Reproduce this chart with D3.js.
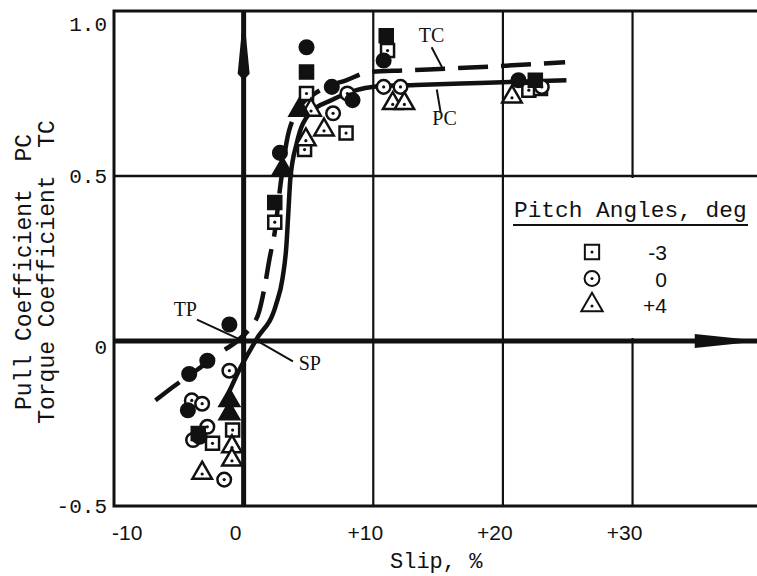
<!DOCTYPE html>
<html>
<head>
<meta charset="utf-8">
<script src="https://cdn.jsdelivr.net/npm/d3@7"></script>
<style>
  body { margin: 0; background: #fff; }
  svg { display: block; }
  .mono { font-family: "Liberation Mono", "DejaVu Sans Mono", monospace; fill: #111; }
  .sans { font-family: "Liberation Sans", Arial, sans-serif; fill: #111; }
  .serif { font-family: "Liberation Serif", "DejaVu Serif", serif; fill: #111; }
</style>
</head>
<body>
<div id="vis"></div>
<script>
// slip (%) vs coefficient
const xTicks = [-10, 0, 10, 20, 30]
const xTickLabels = ['-10', '0', '+10', '+20', '+30']
const yTicks = [1.0, 0.5, 0, -0.5]
const yTickLabels = ['1.0', '0.5', '0', '-0.5']

// faired curves
const pcCurve = [[-1.3,-0.17],[-0.3,-0.085],[1.0,0.006],[2.5,0.11],[3.0,0.19],[3.3,0.29],[3.45,0.39],[3.6,0.49],[4.1,0.6],[5.1,0.69],[6.8,0.73],[8.7,0.76],[9.9,0.77],[13.3,0.776],[18.2,0.782],[24.9,0.79]]
const tcCurve = [[-6.8,-0.18],[-5.3,-0.135],[-3.5,-0.085],[-2.0,-0.04],[-0.5,0.0],[0.5,0.04],[1.2,0.09],[1.6,0.16],[2.0,0.25],[2.4,0.33],[2.8,0.46],[3.3,0.6],[4.2,0.7],[5.5,0.75],[6.4,0.77],[7.9,0.79],[9.7,0.815],[12.4,0.82],[16.6,0.827],[19.7,0.833],[24.8,0.845]]

// test points, open = pull coefficient, filled = torque coefficient
const pitchM3Open = [[2.4,0.36],[4.85,0.75],[4.7,0.58],[7.9,0.63],[11.1,0.88],[22.0,0.76],[22.9,0.765],[-0.85,-0.27],[-2.4,-0.31]]
const pitchM3Filled = [[2.4,0.42],[4.85,0.815],[11.0,0.925],[22.5,0.79],[-3.5,-0.28]]
const pitch0Open = [[6.9,0.69],[8.0,0.75],[10.8,0.77],[12.1,0.77],[23.0,0.77],[-1.1,-0.09],[-4.0,-0.18],[-3.2,-0.19],[-2.8,-0.26],[-3.9,-0.30],[-1.5,-0.42]]
const pitch0Filled = [[4.85,0.89],[10.8,0.85],[6.8,0.77],[2.8,0.57],[8.4,0.73],[21.2,0.79],[-1.1,0.05],[-2.8,-0.06],[-4.2,-0.10],[-4.3,-0.21],[-3.4,-0.29]]
const pitch4Open = [[6.2,0.64],[4.8,0.61],[5.2,0.70],[11.5,0.72],[12.4,0.72],[20.7,0.74],[-3.2,-0.40],[-0.9,-0.32],[-0.9,-0.36]]
const pitch4Filled = [[-1.1,-0.18],[-1.1,-0.22],[4.3,0.70],[3.0,0.52]]

const legendLabels = ['-3', '0', '+4']

// annotation labels and their leader lines, in data units
const notes = [
  {text: 'TC', at: [14.5, 0.905], from: [14.5, 0.89], to: [15.3, 0.83]},
  {text: 'PC', at: [15.5, 0.655], from: [14.9, 0.762], to: [15.2, 0.692]},
  {text: 'TP', at: [-4.5, 0.075], from: [-3.6, 0.065], to: [-0.3, 0.005]},
  {text: 'SP', at: [5.1, -0.087], from: [0.85, 0.005], to: [3.8, -0.062]}
]

const W = 757, H = 576
const svg = d3.select('#vis').append('svg').attr('width', W).attr('height', H)
svg.append('rect').attr('width', W).attr('height', H).attr('fill', '#fff')

const x = d3.scaleLinear().domain([-10, 39.6]).range([114, 757])
const y = d3.scaleLinear().domain([-0.5, 1.0]).range([506, 11])

// grid
svg.selectAll('.vgrid').data([10, 20, 30]).join('line')
    .attr('x1', d => x(d)).attr('x2', d => x(d))
    .attr('y1', y(1)).attr('y2', y(-0.5))
    .attr('stroke', '#111').attr('stroke-width', 2.2)
svg.append('line')
    .attr('x1', x(-10)).attr('x2', W).attr('y1', y(0.5)).attr('y2', y(0.5))
    .attr('stroke', '#111').attr('stroke-width', 2.5)

// frame (no right side)
svg.append('path')
    .attr('d', `M${W},${y(1)}H${x(-10)}V${y(-0.5)}H${W}`)
    .attr('fill', 'none').attr('stroke', '#111').attr('stroke-width', 3)

// legend panel blanks out the grid behind it
svg.append('rect')
    .attr('x', x(20) + 2).attr('y', y(0.5) + 2)
    .attr('width', W - x(20) - 2).attr('height', y(0) - y(0.5) - 5)
    .attr('fill', '#fff')

// main axes through origin
svg.append('line')
    .attr('x1', x(0)).attr('x2', x(0)).attr('y1', y(1)).attr('y2', y(-0.5))
    .attr('stroke', '#111').attr('stroke-width', 5)
svg.append('line')
    .attr('x1', x(-10)).attr('x2', W).attr('y1', y(0)).attr('y2', y(0))
    .attr('stroke', '#111').attr('stroke-width', 5)
// arrow heads
svg.append('path')
    .attr('d', `M${x(0)},${y(1) + 1}L${x(0) + 6},${y(0.81)}L${x(0)},${y(0.79)}L${x(0) - 6},${y(0.81)}Z`)
    .attr('fill', '#111')
svg.append('path')
    .attr('d', `M${x(34.8)},${y(0) - 7}L${W + 4},${y(0)}L${x(34.8)},${y(0) + 7}Z`)
    .attr('fill', '#111')

// tick labels
svg.selectAll('.xlab').data(xTicks).join('text')
    .attr('class', 'sans')
    .attr('x', (d, i) => i === 0 ? x(d) - 2 : x(d) - 8)
    .attr('y', 540)
    .attr('text-anchor', (d, i) => i === 0 ? 'start' : 'middle')
    .attr('font-size', 21)
    .text((d, i) => xTickLabels[i])
svg.selectAll('.ylab').data(yTicks).join('text')
    .attr('class', 'mono')
    .attr('x', 107)
    .attr('y', (d, i) => y(d) + (i === 0 ? 20 : d === 0 ? 13 : 7))
    .attr('text-anchor', 'end')
    .attr('font-size', 21)
    .text((d, i) => yTickLabels[i])

// axis titles
svg.append('text').attr('class', 'mono')
    .attr('x', 390).attr('y', 568).attr('font-size', 22)
    .text('Slip, %')
svg.append('text').attr('class', 'mono')
    .attr('transform', 'translate(31,272) rotate(-90)')
    .attr('text-anchor', 'middle').attr('font-size', 23)
    .attr('xml:space', 'preserve')
    .text('Pull Coefficient  PC')
svg.append('text').attr('class', 'mono')
    .attr('transform', 'translate(54,272) rotate(-90)')
    .attr('text-anchor', 'middle').attr('font-size', 23)
    .attr('xml:space', 'preserve')
    .text('Torque Coefficient  TC')

// curves
const line = d3.line().x(d => x(d[0])).y(d => y(d[1])).curve(d3.curveMonotoneX)
svg.append('path').datum(pcCurve).attr('d', line)
    .attr('fill', 'none').attr('stroke', '#111').attr('stroke-width', 4.5)
svg.append('path').datum(tcCurve).attr('d', line)
    .attr('fill', 'none').attr('stroke', '#111').attr('stroke-width', 4.5)
    .attr('stroke-dasharray', '30,13')

// symbols
const shapes = {square: d3.symbolSquare, circle: d3.symbolCircle, triangle: d3.symbolTriangle}
const sizes = {square: 170, circle: 145, triangle: 165}
function drawPoints(data, kind, filled) {
  const g = svg.append('g')
  const sym = d3.symbol().type(shapes[kind]).size(sizes[kind])
  g.selectAll('path').data(data).join('path')
      .attr('transform', d => `translate(${x(d[0])},${y(d[1])})`)
      .attr('d', sym)
      .attr('fill', filled ? '#111' : '#fff')
      .attr('stroke', '#111').attr('stroke-width', 2.5)
  if (!filled) {
    g.selectAll('circle').data(data).join('circle')
        .attr('cx', d => x(d[0])).attr('cy', d => y(d[1]) + (kind === 'triangle' ? 1 : 0))
        .attr('r', 1.6).attr('fill', '#111')
  }
}
drawPoints(pitchM3Open, 'square', false)
drawPoints(pitch0Open, 'circle', false)
drawPoints(pitch4Open, 'triangle', false)
drawPoints(pitchM3Filled, 'square', true)
drawPoints(pitch0Filled, 'circle', true)
drawPoints(pitch4Filled, 'triangle', true)

// annotations
notes.forEach(n => {
  svg.append('line')
      .attr('x1', x(n.from[0])).attr('y1', y(n.from[1]))
      .attr('x2', x(n.to[0])).attr('y2', y(n.to[1]))
      .attr('stroke', '#111').attr('stroke-width', 2)
  svg.append('text').attr('class', 'serif')
      .attr('x', x(n.at[0])).attr('y', y(n.at[1]))
      .attr('text-anchor', 'middle').attr('font-size', 20)
      .text(n.text)
})

// legend
const legend = svg.append('g')
legend.append('text').attr('class', 'mono')
    .attr('x', 514).attr('y', 217).attr('font-size', 22.8)
    .text('Pitch Angles, deg')
legend.append('line')
    .attr('x1', 513).attr('x2', 748).attr('y1', 225).attr('y2', 225)
    .attr('stroke', '#111').attr('stroke-width', 2)
const legendKinds = ['square', 'circle', 'triangle']
legendKinds.forEach((k, i) => {
  const cy = 252 + i * 26.5
  legend.append('path')
      .attr('transform', `translate(592,${cy})`)
      .attr('d', d3.symbol().type(shapes[k]).size(sizes[k] * 1.2)())
      .attr('fill', '#fff').attr('stroke', '#111').attr('stroke-width', 2)
  legend.append('circle').attr('cx', 592).attr('cy', cy + (k === 'triangle' ? 1 : 0))
      .attr('r', 1.5).attr('fill', '#111')
  legend.append('text').attr('class', 'sans')
      .attr('x', 667).attr('y', cy + 8).attr('text-anchor', 'end')
      .attr('font-size', 21)
      .text(legendLabels[i])
})
</script>
</body>
</html>
